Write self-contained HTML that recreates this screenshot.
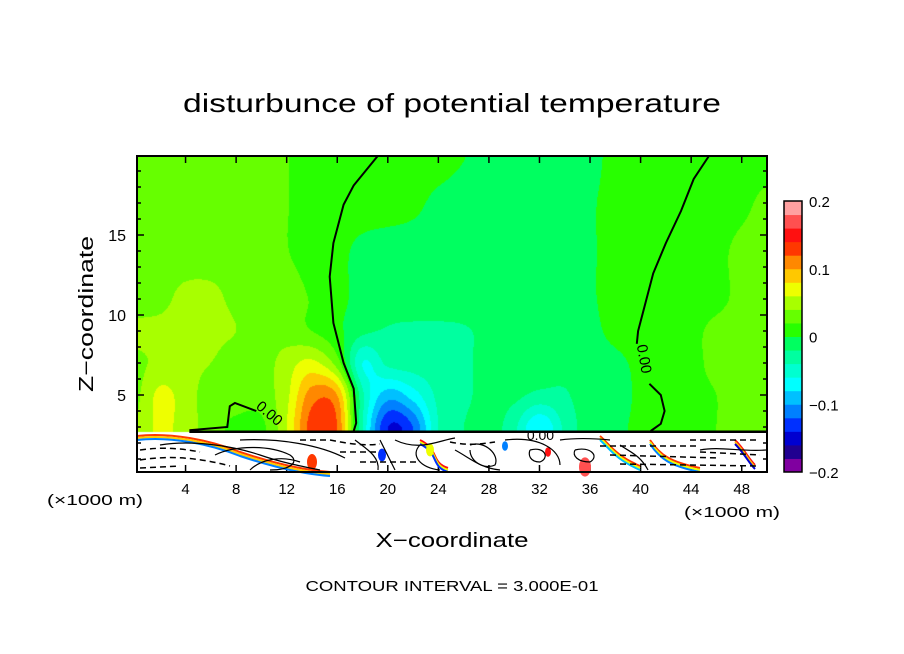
<!DOCTYPE html>
<html><head><meta charset="utf-8">
<style>
html,body{margin:0;padding:0;background:#fff;}
#wrap{position:relative;width:904px;height:654px;overflow:hidden;font-family:"Liberation Sans",sans-serif;}
canvas{position:absolute;left:0;top:0;}
svg{position:absolute;left:0;top:0;}
</style></head><body>
<div id="wrap">
<canvas id="cv" width="904" height="654"></canvas>
<svg id="sv" width="904" height="654">
  <text x="452" y="112" text-anchor="middle" font-size="26" textLength="538" lengthAdjust="spacingAndGlyphs">disturbunce of potential temperature</text>
  <text transform="translate(93,314) rotate(-90)" text-anchor="middle" font-size="20" textLength="156" lengthAdjust="spacingAndGlyphs">Z−coordinate</text>
  <text x="452" y="547" text-anchor="middle" font-size="20" textLength="153" lengthAdjust="spacingAndGlyphs">X−coordinate</text>
  <text x="452" y="591" text-anchor="middle" font-size="15" textLength="293" lengthAdjust="spacingAndGlyphs">CONTOUR INTERVAL = 3.000E-01</text>
  <text x="95" y="505" text-anchor="middle" font-size="15" textLength="96" lengthAdjust="spacingAndGlyphs">(×1000 m)</text>
  <text x="732" y="517" text-anchor="middle" font-size="15" textLength="96" lengthAdjust="spacingAndGlyphs">(×1000 m)</text>
  <g id="g-ticks"></g>
  <g id="g-bottom"></g>
  <g id="g-contour"></g>
  <g id="g-cbar"></g>
  <rect x="137" y="156" width="630" height="316" fill="none" stroke="#000" stroke-width="2"/>
</svg>
</div>
<script>
// ---- data ----
const xCoords = [0,2,4,6,8,10,12,14,16,18,20,22,24,26,28,30,32,34,36,38,40,42,44,46,48,50];
const zLevels = [3,5,7,9,11,14,17,20];
const row_z3  = [.04,.065,.05,.03,.015,.015,.06,.13,.12,-.04,-.14,-.12,-.04,-.02,-.01,-.035,-.08,-.035,-.01,-.005,.005,.01,.015,.02,.03,.03];
const row_z5  = [.035,.065,.05,.03,.03,.03,.055,.11,.1,-.035,-.09,-.07,-.035,-.025,-.012,-.015,-.025,-.022,-.01,-.01,.005,.01,.015,.02,.03,.03];
const row_z7  = [.035,.045,.045,.04,.03,.03,.05,.065,.03,-.06,-.035,-.03,-.028,-.025,-.01,-.01,-.01,-.015,-.01,-.005,.005,.01,.015,.025,.03,.03];
const row_z9  = [.045,.045,.045,.045,.04,.03,.03,.02,.005,-.015,-.022,-.024,-.024,-.022,-.015,-.01,-.01,-.01,-.005,.005,.01,.01,.015,.025,.03,.03];
const row_z11 = [.03,.035,.045,.045,.035,.03,.03,.018,.005,-.005,-.01,-.01,-.01,-.01,-.01,-.01,-.01,-.01,-.002,.005,.01,.01,.01,.015,.025,.03];
const row_z14 = [.03,.03,.03,.03,.03,.03,.021,.01,.005,-.005,-.01,-.01,-.01,-.01,-.01,-.01,-.01,-.01,-.002,.005,.01,.01,.01,.015,.025,.03];
const row_z17 = [.03,.03,.03,.03,.03,.03,.021,.01,.01,.01,.01,.005,-.005,-.01,-.01,-.01,-.01,-.01,-.002,.005,.01,.01,.01,.01,.015,.025];
const row_z20 = [.03,.03,.03,.03,.03,.03,.021,.01,.01,.01,.01,.01,.01,.001,-.01,-.01,-.01,-.01,-.005,.005,.01,.01,.01,.01,.01,.01];
const rows = [row_z3,row_z5,row_z7,row_z9,row_z11,row_z14,row_z17,row_z20];
const colorLevels = [-0.2,-0.18,-0.16,-0.14,-0.12,-0.1,-0.08,-0.06,-0.04,-0.02,0,0.02,0.04,0.06,0.08,0.1,0.12,0.14,0.16,0.18,0.2];
const levelColors = ["#8000a0","#200090","#0000d0","#0030ff","#0080ff","#00c0ff","#00ffff","#00ffd0","#00ffa0","#00ff60","#28ff00","#66ff00","#a8ff00","#eeff00","#ffc800","#ff8800","#ff3800","#ff1010","#ff5050","#ffa0a0"];
const cbarTicks = [-0.2,-0.1,0,0.1,0.2];
const cbarLabels = ["−0.2","−0.1","0","0.1","0.2"];
const xTicks = [4,8,12,16,20,24,28,32,36,40,44,48];
const zTicks = [5,10,15];
// zero contour traced from the field
const c1x = [19.2,17.3,16.5,15.7,15.4,15.7,16.5,17.3,17.5,17.3];
const c1z = [19.94,18.1,16.9,14.5,12.4,9.5,7.0,5.4,3.25,2.75];
const c2x = [45.4,44.2,43.2,42.0,41.0,40.3,39.8,39.7];
const c2z = [19.94,18.5,16.5,14.5,12.6,10.5,9.0,8.2];
const c3x = [40.7,41.6,41.9,41.6,40.8];
const c3z = [5.7,5.0,4.0,3.2,2.75];
const c4x = [4.3,7.3,7.5,7.9,9.6];
const c4z = [2.8,3.0,4.3,4.5,4.0];

// ---- axes ----
const X = x => 135 + x*12.64;
const Z = z => 475 - 16*z;
const L=137,R=767,T=156,B=472, ZB=2.69;

// ---- field (Catmull-Rom interpolation) ----
function cr(p0,p1,p2,p3,t){
  return 0.5*((2*p1)+(-p0+p2)*t+(2*p0-5*p1+4*p2-p3)*t*t+(-p0+3*p1-3*p2+p3)*t*t*t);
}
function seg(arr,v){
  let i=0; while(i<arr.length-2 && v>arr[i+1]) i++;
  return [i,(v-arr[i])/(arr[i+1]-arr[i])];
}
function rowAt(r,x){
  const [i,t]=seg(xCoords,x);
  const n=r.length;
  const p0=r[Math.max(0,i-1)],p1=r[i],p2=r[i+1],p3=r[Math.min(n-1,i+2)];
  return cr(p0,p1,p2,p3,t);
}
function valueAt(x,z){
  const zc=Math.max(zLevels[0],Math.min(zLevels[zLevels.length-1],z));
  const xc=Math.max(0,Math.min(50,x));
  const [j,t]=seg(zLevels,zc);
  const m=rows.length;
  const v0=rowAt(rows[Math.max(0,j-1)],xc),v1=rowAt(rows[j],xc),v2=rowAt(rows[j+1],xc),v3=rowAt(rows[Math.min(m-1,j+2)],xc);
  return cr(v0,v1,v2,v3,t);
}
function colorFor(v){
  let k=Math.floor((v-colorLevels[0])/(colorLevels[1]-colorLevels[0])+1e-9);
  k=Math.max(0,Math.min(levelColors.length-1,k));
  return levelColors[k];
}
const ctx=document.getElementById('cv').getContext('2d');
ctx.fillStyle='#fff';ctx.fillRect(L,T,R-L,B-T);
const zTopPx=Math.round(Z(ZB));
for(let py=T;py<zTopPx;py++){
  for(let px=L;px<R;px++){
    const x=(px+0.5-135)/12.64, z=(475-py-0.5)/16;
    ctx.fillStyle=colorFor(valueAt(x,z));
    ctx.fillRect(px,py,1,1);
  }
}

const NS='http://www.w3.org/2000/svg';
function mk(tag,attrs,parent){const e=document.createElementNS(NS,tag);for(const k in attrs)e.setAttribute(k,attrs[k]);parent.appendChild(e);return e;}

// lower layer (white) decorations
const gb=document.getElementById('g-bottom');
const streaks=[
 {d:"M137,436 C170,432 210,440 240,452 C270,462 300,470 330,472",c:["#ff3800","#ffc800","#0080ff"]},
 {d:"M420,440 C440,450 430,462 448,468",c:["#ff1010","#eeff00","#0030ff"]},
 {d:"M650,440 C660,455 670,462 700,468",c:["#ff3800","#eeff00","#0080ff"]},
 {d:"M735,440 C745,450 748,458 755,465",c:["#ff1010","#ffc800","#0000d0"]},
 {d:"M600,436 C610,445 615,455 640,466",c:["#ff3800","#eeff00","#00c0ff"]}
];
streaks.forEach((s,si)=>{
  s.c.forEach((col,ci)=>{
    const p=mk('path',{d:s.d,fill:"none",stroke:col,"stroke-width":2,transform:`translate(0,${ci*2})`},gb);
    
    
  });
});
const blobs=[[312,462,5,"#ff3800"],[382,455,4,"#0030ff"],[430,450,4,"#eeff00"],[585,467,6,"#ff5050"],[505,446,3,"#0080ff"],[548,452,3,"#ff1010"]];
blobs.forEach(b=>{
  const e=mk('ellipse',{cx:b[0],cy:b[1],rx:b[2],ry:b[2]*1.6,fill:b[3]},gb);
  
  
});
const solids=["M160,445 C190,440 230,445 260,455 C280,462 300,466 320,470","M215,455 C235,445 270,445 290,455 C300,462 290,470 270,470","M240,440 C280,438 320,445 345,458","M380,440 L395,470","M395,440 C420,452 440,440 455,438","M470,445 C485,440 500,455 495,465 C485,470 470,462 470,450","M505,440 C540,436 560,450 560,465","M530,450 C545,446 550,458 540,462 C530,462 528,455 530,450","M575,450 C590,446 600,456 590,462 C578,462 572,456 575,450","M620,445 C630,452 640,455 648,470","M700,450 C720,446 740,452 766,450","M560,440 C575,438 590,438 610,440","M355,440 C365,448 380,456 378,470","M420,445 C410,455 420,468 440,470","M250,470 C260,460 280,455 300,462","M455,450 C470,458 480,468 500,470"];
solids.forEach(d=>{
  const e=mk('path',{d:d,fill:"none",stroke:"#000","stroke-width":1.2},gb);
  
  
});
const dashed=["M140,450 C160,447 180,448 200,452","M140,460 C170,455 200,458 230,466","M140,468 L180,466","M330,440 C350,444 365,446 380,444","M450,442 C470,446 480,444 495,442","M600,446 L700,446","M610,455 L720,458","M620,464 L760,466","M690,440 L760,440","M700,452 L760,455","M340,452 L380,452","M360,462 L420,462","M300,440 L330,440"];
dashed.forEach(d=>{
  const e=mk('path',{d:d,fill:"none",stroke:"#000","stroke-width":1.5,"stroke-dasharray":"6,4"},gb);
  
  
});
const topLine=mk('path',{d:`M${X(4.3)},${Z(2.7)} L${R},${Z(2.7)}`,stroke:"#000","stroke-width":2.5,fill:"none"},gb);



// zero contours
const gc=document.getElementById('g-contour');
[[c1x,c1z],[c2x,c2z],[c3x,c3z],[c4x,c4z]].forEach(([xs,zs])=>{
  const d=xs.map((x,i)=>(i?'L':'M')+X(x).toFixed(1)+','+Z(zs[i]).toFixed(1)).join(' ');
  const p=mk('path',{d:d,fill:"none",stroke:"#000","stroke-width":2},gc);
  
  
});
const lbl1=mk('text',{x:0,y:0,"font-size":15,transform:`translate(${X(9.5)},${Z(4.2)}) rotate(40)`},gc);
lbl1.textContent="0.00";


const lbl2=mk('text',{x:0,y:0,"font-size":15,transform:`translate(${X(39.7)},${Z(8.1)}) rotate(80)`},gc);
lbl2.textContent="0.00";


const lbl3=mk('text',{x:X(31),y:Z(2.2),"font-size":14},gc);
lbl3.textContent="0.00";



// ticks
const gt=document.getElementById('g-ticks');
xTicks.forEach(t=>{
  mk('line',{x1:X(t),x2:X(t),y1:B,y2:B-7,stroke:"#000","stroke-width":1.5},gt);
  mk('line',{x1:X(t),x2:X(t),y1:T,y2:T+7,stroke:"#000","stroke-width":1.5},gt);
  const tx=mk('text',{x:X(t),y:B+22,"text-anchor":"middle","font-size":15},gt);
  tx.textContent=t;
  
  
});
for(let z=1;z<=19;z++){
  const len=(z%5===0)?7:4;
  mk('line',{x1:L,x2:L+len,y1:Z(z),y2:Z(z),stroke:"#000","stroke-width":1.5},gt);
  mk('line',{x1:R,x2:R-len,y1:Z(z),y2:Z(z),stroke:"#000","stroke-width":1.5},gt);
}
zTicks.forEach(t=>{
  const tx=mk('text',{x:126,y:Z(t)+6,"text-anchor":"end","font-size":16},gt);
  tx.textContent=t;
  
  
});

// colorbar
const gcb=document.getElementById('g-cbar');
const CB=v=>472-(v+0.2)/0.4*271;
levelColors.forEach((c,i)=>{
  const y1=CB(colorLevels[i+1]), y0=CB(colorLevels[i]);
  const r=mk('rect',{x:784,y:y1,width:18,height:y0-y1+0.5,fill:c},gcb);
  
  
});
mk('rect',{x:784,y:CB(0.2),width:18,height:271,fill:"none",stroke:"#000","stroke-width":1.5},gcb);
cbarTicks.forEach((t,i)=>{
  const tx=mk('text',{x:809,y:CB(t)+6,"font-size":15},gcb);
  tx.textContent=cbarLabels[i];
  
  
});
</script>
</body></html>
